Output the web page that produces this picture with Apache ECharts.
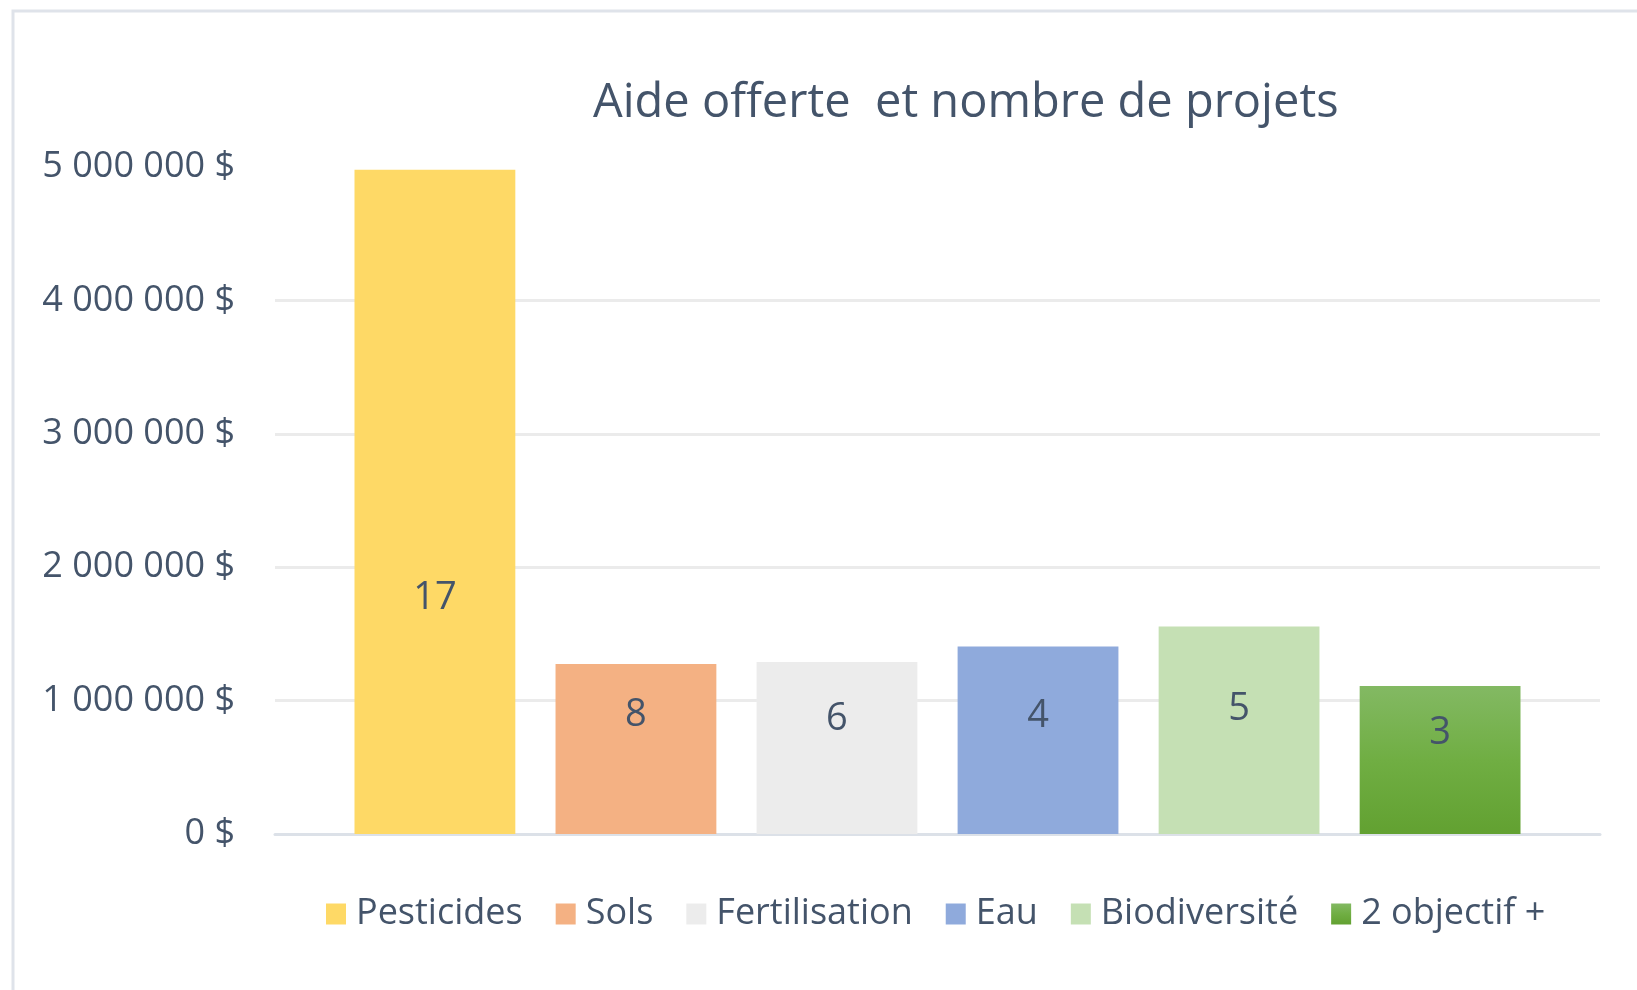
<!DOCTYPE html>
<html>
<head>
<meta charset="utf-8">
<script src="https://cdn.jsdelivr.net/npm/echarts@6/dist/echarts.min.js"></script>
<style>
  html, body { margin: 0; padding: 0; background: #fff; }
  #chart { width: 1637px; height: 990px; }
</style>
</head>
<body>
<div id="chart"></div>
<script>
// données du graphique
var categories = ['Pesticides', 'Sols', 'Fertilisation', 'Eau', 'Biodiversité', '2 objectif +'];
var aide = [4980000, 1275000, 1290000, 1405000, 1555000, 1110000];   // aide offerte ($)
var projets = [17, 8, 6, 4, 5, 3];                                    // nombre de projets
var yTicks = [0, 1000000, 2000000, 3000000, 4000000, 5000000];

var TXT = '#44546a';
var FONT = 'Open Sans';

var couleurs = [
  '#fed966',
  '#f4b183',
  '#ececec',
  '#8faadc',
  '#c5e0b4',
  new echarts.graphic.LinearGradient(0, 0, 0, 1, [
    { offset: 0, color: '#83b963' },
    { offset: 0.5, color: '#70ae43' },
    { offset: 1, color: '#62a131' }
  ])
];
// position verticale des étiquettes dans chaque barre (fraction depuis le haut)
var posEtiquette = ['64.5%', '30%', '33%', '37%', '40%', '32%'];

function formatDollar(v) {
  var s = String(v).replace(/\B(?=(\d{3})+(?!\d))/g, ' ');
  return s + ' $';
}

var chart = echarts.init(document.getElementById('chart'));

var series = [];
for (var i = 0; i < categories.length; i++) {
  (function(i) {
    series.push({
      name: categories[i],
      type: 'bar',
      data: [aide[i]],
      barGap: '25%',
      barCategoryGap: '12%',
      itemStyle: { color: couleurs[i] },
      label: {
        show: true,
        position: ['50%', posEtiquette[i]],
        align: 'center',
        verticalAlign: 'middle',
        formatter: function() { return String(projets[i]); },
        color: TXT,
        fontFamily: FONT,
        fontSize: 38
      }
    });
  })(i);
}

var option = {
  backgroundColor: '#fff',
  animation: false,
  title: {
    text: 'Aide offerte  et nombre de projets',
    left: 588,
    top: 75,
    textStyle: {
      color: TXT,
      fontFamily: FONT,
      fontWeight: 'normal',
      fontSize: 47
    }
  },
  grid: {
    left: 275,
    right: 37,
    top: 167,
    bottom: 156
  },
  legend: {
    data: categories,
    left: 321,
    top: 891,
    icon: 'rect',
    itemWidth: 20,
    itemHeight: 21,
    itemGap: 33,
    textStyle: {
      color: TXT,
      fontFamily: FONT,
      fontSize: 36,
      padding: [0, 0, 0, 5]
    }
  },
  xAxis: {
    type: 'category',
    data: [''],
    axisLine: { show: true, lineStyle: { color: '#dce1e8', width: 3 } },
    axisTick: { show: false },
    axisLabel: { show: false }
  },
  yAxis: {
    type: 'value',
    min: yTicks[0],
    max: yTicks[yTicks.length - 1],
    interval: yTicks[1] - yTicks[0],
    axisLine: { show: false },
    axisTick: { show: false },
    splitLine: { showMaxLine: false, lineStyle: { color: '#ebebeb', width: 3 } },
    axisLabel: {
      margin: 40,
      color: TXT,
      fontFamily: FONT,
      fontSize: 36,
      formatter: formatDollar
    }
  },
  graphic: [{
    type: 'rect',
    silent: true,
    shape: { x: 13, y: 11, width: 1700, height: 1100 },
    style: { fill: null, stroke: '#dfe3ea', lineWidth: 3 }
  }],
  series: series
};

chart.setOption(option);
</script>
</body>
</html>
